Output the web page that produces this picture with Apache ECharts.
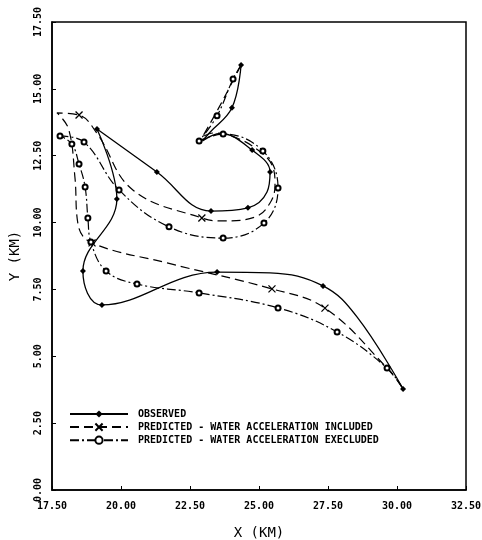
<!DOCTYPE html>
<html>
<head>
<meta charset="utf-8">
<script src="https://cdn.jsdelivr.net/npm/echarts@6/dist/echarts.min.js"></script>
<style>
html,body{margin:0;padding:0;background:#fff;}
#chart{width:482px;height:540px;}
</style>
</head>
<body>
<div id="chart"></div>
<script>
// Axis ticks
const xTicks = [17.5, 20.0, 22.5, 25.0, 27.5, 30.0, 32.5];
const yTicks = [0, 2.5, 5.0, 7.5, 10.0, 12.5, 15.0, 17.5];

const seriesNames = [
  "OBSERVED",
  "PREDICTED - WATER ACCELERATION INCLUDED",
  "PREDICTED - WATER ACCELERATION EXECLUDED"
];

// Observed track (solid, diamond markers)
const obsX = [24.35, 24.02, 23.2, 22.95, 23.6, 24.75, 25.4, 25.29, 24.6, 23.26, 21.3, 19.13, 19.85, 18.62, 19.31, 23.48, 25.4, 27.32, 28.55, 30.22];
const obsY = [15.89, 14.29, 13.35, 13.05, 13.33, 12.71, 11.89, 11.14, 10.55, 10.43, 11.89, 13.5, 10.88, 8.19, 6.92, 8.15, 8.12, 7.63, 6.47, 3.78];
const obsM = [1, 1, 0, 0, 0, 1, 1, 0, 1, 1, 1, 1, 1, 1, 1, 1, 0, 1, 0, 1];

// Predicted - water acceleration included (dashed, X markers)
const incX = [24.35, 23.6, 22.95, 23.33, 24.2, 24.96, 25.47, 25.58, 25.4, 24.86, 23.7, 22.93, 20.43, 19.15, 18.48, 17.68, 18.1, 18.33, 18.45, 18.95, 21.67, 25.47, 27.39, 29.64, 30.22];
const incY = [15.89, 14.4, 13.2, 13.35, 13.16, 12.71, 12.15, 11.41, 10.73, 10.21, 10.06, 10.17, 11.22, 13.3, 14.02, 14.1, 13.5, 11.7, 9.9, 9.24, 8.49, 7.52, 6.8, 4.56, 3.78];
const incM = [0, 0, 0, 0, 0, 0, 0, 0, 0, 0, 0, 1, 0, 0, 1, 0, 0, 0, 0, 1, 0, 1, 1, 0, 0];

// Predicted - water acceleration excluded (dash-dot, circle markers)
const excX = [24.35, 24.06, 23.48, 22.83, 23.7, 25.14, 25.69, 25.18, 23.7, 21.74, 19.93, 18.66, 17.79, 18.22, 18.48, 18.7, 18.8, 18.91, 19.46, 20.58, 22.83, 25.69, 27.83, 29.64, 30.22];
const excY = [15.89, 15.37, 13.99, 13.05, 13.31, 12.68, 11.29, 9.98, 9.42, 9.84, 11.22, 13.01, 13.24, 12.94, 12.19, 11.33, 10.17, 9.27, 8.19, 7.7, 7.37, 6.81, 5.91, 4.56, 3.78];
const excM = [0, 1, 1, 1, 1, 1, 1, 1, 1, 1, 1, 1, 1, 1, 1, 1, 1, 1, 1, 1, 1, 1, 1, 1, 0];

function build(xs, ys, ms) {
  return xs.map((x, i) => ms[i] ? { value: [x, ys[i]] } : { value: [x, ys[i]], symbol: 'none' });
}

const FONT = '"DejaVu Sans Mono", monospace';
const chart = echarts.init(document.getElementById('chart'), null, { renderer: 'canvas' });
chart.setOption({
  animation: false,
  backgroundColor: '#fff',
  grid: { left: 52, top: 22, right: 16, bottom: 50, show: true, borderColor: '#000', borderWidth: 1.5,
    containLabel: false, outerBoundsMode: 'none' },
  xAxis: {
    type: 'value', min: xTicks[0], max: xTicks[xTicks.length - 1], interval: 2.5,
    name: 'X (KM)', nameLocation: 'middle', nameGap: 36,
    nameTextStyle: { fontFamily: FONT, fontSize: 14, color: '#000' },
    axisLine: { lineStyle: { color: '#000', width: 1.5 } },
    axisTick: { inside: true, length: 4, lineStyle: { color: '#000' } },
    splitLine: { show: false },
    axisLabel: { fontFamily: FONT, fontSize: 10, fontWeight: 'bold', color: '#000', margin: 11,
      formatter: v => v.toFixed(2) }
  },
  yAxis: {
    type: 'value', min: yTicks[0], max: yTicks[yTicks.length - 1], interval: 2.5,
    name: 'Y (KM)', nameLocation: 'middle', nameGap: 30,
    nameTextStyle: { fontFamily: FONT, fontSize: 14, color: '#000' },
    axisLine: { lineStyle: { color: '#000', width: 1.5 } },
    axisTick: { inside: true, length: 4, lineStyle: { color: '#000' } },
    splitLine: { show: false },
    axisLabel: { fontFamily: FONT, fontSize: 10, fontWeight: 'bold', color: '#000', rotate: 90, margin: 9,
      formatter: v => v.toFixed(2) }
  },
  legend: {
    orient: 'vertical', left: 64, top: 403, itemWidth: 58, itemHeight: 9, itemGap: 1,
    textStyle: { fontFamily: FONT, fontSize: 10, fontWeight: 'bold', color: '#000', padding: [0, 0, 0, 5], lineHeight: 12 },
    data: seriesNames
  },
  series: [
    {
      name: seriesNames[0], type: 'line', smooth: 0.4,
      data: build(obsX, obsY, obsM),
      symbol: 'diamond', symbolSize: 6,
      lineStyle: { color: '#000', width: 1.3, type: 'solid' },
      itemStyle: { color: '#000' }
    },
    {
      name: seriesNames[1], type: 'line', smooth: 0.4,
      data: build(incX, incY, incM),
      symbol: 'path://M0,0L10,10M10,0L0,10', symbolSize: 7,
      lineStyle: { color: '#000', width: 1.2, type: [9, 5] },
      itemStyle: { color: 'none', borderColor: '#000', borderWidth: 1.3 }
    },
    {
      name: seriesNames[2], type: 'line', smooth: 0.4,
      data: build(excX, excY, excM),
      symbol: 'emptyCircle', symbolSize: 5,
      lineStyle: { color: '#000', width: 1.2, type: [9, 3, 2, 3] },
      itemStyle: { color: '#000', borderColor: '#000', borderWidth: 1 }
    }
  ]
});
</script>
</body>
</html>
